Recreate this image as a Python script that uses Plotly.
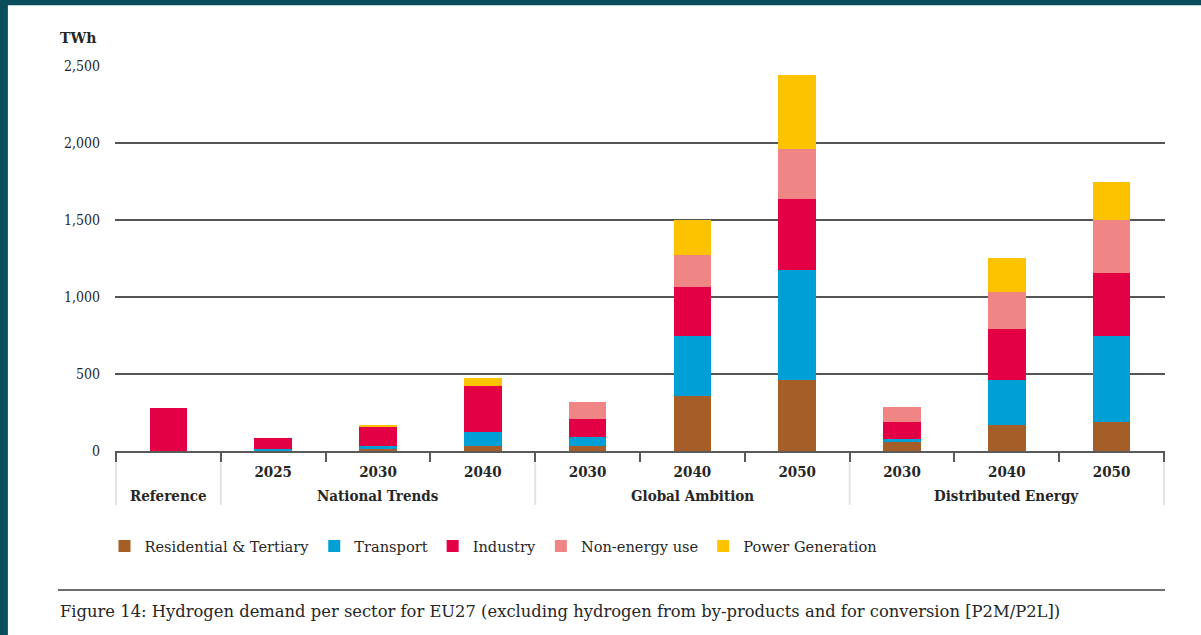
import plotly.graph_objects as go

# Scenario groups and years
groups = ["Reference", "National Trends", "National Trends", "National Trends",
          "Global Ambition", "Global Ambition", "Global Ambition",
          "Distributed Energy", "Distributed Energy", "Distributed Energy"]
years = ["", "2025", "2030", "2040", "2030", "2040", "2050", "2030", "2040", "2050"]

# Hydrogen demand per sector, TWh
residential = [0, 0, 14, 34, 34, 354, 462, 60, 168, 190]
transport = [0, 12, 20, 91, 56, 396, 715, 21, 294, 560]
industry = [280, 70, 123, 294, 121, 316, 458, 109, 333, 403]
non_energy = [0, 0, 0, 0, 108, 208, 329, 97, 239, 348]
power_gen = [0, 0, 13, 54, 0, 226, 479, 0, 218, 243]

sector_names = ["Residential & Tertiary", "Transport", "Industry",
                "Non-energy use", "Power Generation"]
sector_values = [residential, transport, industry, non_energy, power_gen]
sector_colors = ["#a65e29", "#009fd5", "#e30044", "#f08586", "#fec300"]

y_ticks = [0, 500, 1000, 1500, 2000, 2500]

COND = "DejaVu Serif Condensed, DejaVu Serif, serif"
WIDE = "DejaVu Serif, serif"
TEXT = "#262626"

# one unique category per bar; the axis shows only the year
keys = [f"{g} {y}".strip() for g, y in zip(groups, years)]

fig = go.Figure()
for name, vals, col in zip(sector_names, sector_values, sector_colors):
    fig.add_trace(go.Bar(
        x=keys, y=vals, name=name,
        marker=dict(color=col, line=dict(width=0)),
    ))

# white page panel over the dark teal frame
fig.add_shape(type="rect", xref="paper", yref="paper",
              x0=-0.102, x1=1.06, y0=-0.55, y1=1.158,
              fillcolor="white", line=dict(width=0), layer="below")
# rule above the caption
fig.add_shape(type="line", xref="paper", yref="paper",
              x0=-0.0543, x1=1.0, y0=-0.361, y1=-0.361,
              line=dict(color="#6e6e6e", width=2))

# scenario group labels and the light dividers between groups
spans = []
for i, g in enumerate(groups):
    if spans and spans[-1][0] == g:
        spans[-1][2] = i
    else:
        spans.append([g, i, i])
edges = sorted({s[1] - 0.5 for s in spans} | {s[2] + 0.5 for s in spans})
for e in edges:
    fig.add_shape(type="line", xref="x", yref="paper", x0=e, x1=e,
                  y0=-0.03, y1=-0.14, line=dict(color="#e3e3e3", width=2))
for g, a, b in spans:
    fig.add_annotation(text=f"<b>{g}</b>", xref="x", yref="paper",
                       x=(a + b) / 2, y=-0.117, xanchor="center", yanchor="middle",
                       showarrow=False, font=dict(family=COND, size=15, color=TEXT))

fig.add_annotation(text="<b>TWh</b>", xref="paper", yref="paper",
                   x=-0.0543, y=1.073, xanchor="left", yanchor="middle",
                   showarrow=False, font=dict(family=WIDE, size=14, color=TEXT))
fig.add_annotation(
    text="Figure 14: Hydrogen demand per sector for EU27 (excluding hydrogen from by-products and for conversion [P2M/P2L])",
    xref="paper", yref="paper", x=-0.0543, y=-0.418, xanchor="left", yanchor="middle",
    showarrow=False, font=dict(family=WIDE, size=16.35, color=TEXT))

fig.update_layout(
    width=1201, height=635,
    margin=dict(l=115, r=36, t=66, b=184),
    paper_bgcolor="#0b4e5b",
    plot_bgcolor="white",
    barmode="stack",
    bargap=0.64,
    font=dict(family=COND, size=14, color=TEXT),
    showlegend=True,
    legend=dict(orientation="h", x=-0.01, xanchor="left", y=-0.247, yanchor="middle",
                bgcolor="rgba(0,0,0,0)", font=dict(family=WIDE, size=14.6, color=TEXT),
                traceorder="normal"),
    xaxis=dict(
        type="category", tickvals=keys, ticktext=years,
        showline=True, linecolor="#5a5a5a", linewidth=2,
        ticks="outside", tickson="boundaries", ticklen=9, tickwidth=2, tickcolor="#5a5a5a",
        ticklabelstandoff=6,
        tickfont=dict(family=COND, size=15, color=TEXT, weight="bold"),
        showgrid=False,
    ),
    yaxis=dict(
        range=[0, 2500], tickvals=y_ticks, tickformat=",",
        showgrid=True, gridcolor="#555555", gridwidth=2,
        zeroline=False, ticks="", ticklabelstandoff=14,
        tickfont=dict(family=COND, size=14, color=TEXT),
    ),
)

fig.write_html("out.html")
